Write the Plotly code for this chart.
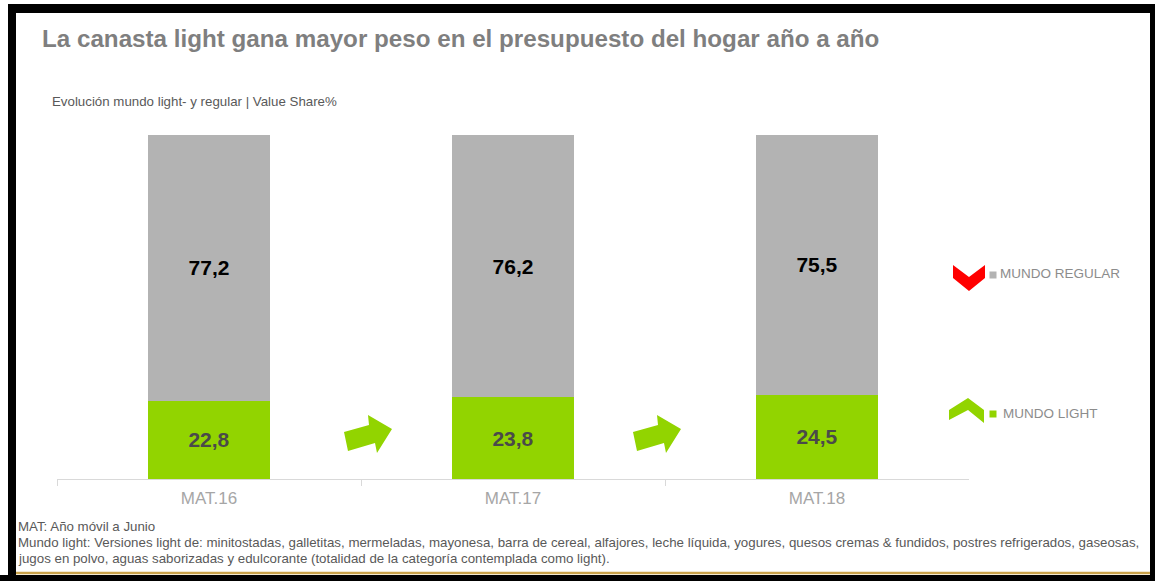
import plotly.graph_objects as go

# ---- data ----
categories = ["MAT.16", "MAT.17", "MAT.18"]
light_share = [22.8, 23.8, 24.5]
regular_share = [77.2, 76.2, 75.5]
series_names = ["MUNDO LIGHT", "MUNDO REGULAR"]

W, H = 1155, 581
FONT = "Liberation Sans, Arial, sans-serif"
GREY = "#b3b3b3"
GREEN = "#92d400"


def px(x):
    return x / W


def py(y):
    return 1 - y / H


def fmt(v):
    return f"{v:.1f}".replace(".", ",")


fig = go.Figure()
fig.add_trace(go.Bar(
    x=categories, y=light_share, name=series_names[0],
    marker=dict(color=GREEN, line=dict(width=0)), width=0.4,
    text=[fmt(v) for v in light_share], textposition="inside",
    insidetextanchor="middle", textangle=0,
    textfont=dict(family=FONT, size=21, color="#4a4a4a", weight="bold"),
    hoverinfo="skip",
))
fig.add_trace(go.Bar(
    x=categories, y=regular_share, name=series_names[1],
    marker=dict(color=GREY, line=dict(width=0)), width=0.4,
    text=[fmt(v) for v in regular_share], textposition="inside",
    insidetextanchor="middle", textangle=0,
    textfont=dict(family=FONT, size=21, color="#000000", weight="bold"),
    hoverinfo="skip",
))

# ---- decorative shapes (pixel-based, in paper coords) ----
shapes = []


def poly(points, color):
    d = "M " + " L ".join(f"{px(x):.5f},{py(y):.5f}" for x, y in points) + " Z"
    return dict(type="path", xref="paper", yref="paper", path=d,
                fillcolor=color, line=dict(width=0), layer="above")


def rect(x0, y0, x1, y1, color):
    return dict(type="rect", xref="paper", yref="paper",
                x0=px(x0), x1=px(x1), y0=py(y1), y1=py(y0),
                fillcolor=color, line=dict(width=0), layer="above")


arrow = [(344, 432), (369, 425), (368, 415), (392, 429), (377, 453), (375, 443), (348, 451)]
for dx in (0, 289):
    shapes.append(poly([(x + dx, y) for x, y in arrow], GREEN))

# legend chevrons and squares
shapes.append(poly([(953, 265), (969, 277), (985, 265), (985, 278), (969, 291), (953, 278)], "#ff0000"))
shapes.append(poly([(949, 410), (968, 398), (984, 410), (984, 423), (968, 410), (949, 420)], GREEN))
shapes.append(rect(989.5, 271.5, 996.5, 278.5, GREY))
shapes.append(rect(989.5, 410.5, 996.5, 417.5, GREEN))

# gold line near bottom
shapes.append(dict(type="line", xref="paper", yref="paper",
                   x0=px(14), x1=px(1150), y0=py(573), y1=py(573),
                   line=dict(color="#c9a24a", width=2.5), layer="above"))

# black frame
shapes.append(rect(8, 4, 1155, 13, "#000000"))
shapes.append(rect(8, 4, 16, 581, "#000000"))
shapes.append(rect(1150, 4, 1155, 581, "#000000"))
shapes.append(rect(0, 575, 1155, 581, "#000000"))

# ---- text ----
annotations = []


def txt(x, y, s, size, color, bold=False, anchor="left"):
    annotations.append(dict(
        xref="paper", yref="paper", x=px(x), y=py(y), text=s,
        showarrow=False, xanchor=anchor, yanchor="middle",
        font=dict(family=FONT, size=size, color=color,
                  weight="bold" if bold else "normal"),
    ))


txt(40, 38, "La canasta light gana mayor peso en el presupuesto del hogar año a año", 24.2, "#7f7f7f", bold=True)
txt(50, 101, "Evolución mundo light- y regular | Value Share%", 13.3, "#595959")
txt(998, 274, "MUNDO REGULAR", 13.5, "#8c8c8c")
txt(1001, 413, "MUNDO LIGHT", 13.5, "#8c8c8c")
txt(16, 526, "MAT: Año móvil a Junio", 13.3, "#595959")
txt(16, 542, "Mundo light: Versiones light de: minitostadas, galletitas, mermeladas, mayonesa, barra de cereal, alfajores, leche líquida, yogures, quesos cremas & fundidos, postres refrigerados, gaseosas,", 13.3, "#595959")
txt(16, 558, "jugos en polvo, aguas saborizadas y edulcorante (totalidad de la categoría contemplada como light).", 13.3, "#595959")

fig.update_layout(
    width=W, height=H,
    margin=dict(l=0, r=0, t=0, b=0),
    paper_bgcolor="white", plot_bgcolor="white",
    barmode="stack", showlegend=False,
    shapes=shapes, annotations=annotations,
    uniformtext=dict(mode=False),
    xaxis=dict(
        domain=[px(57), px(969)], range=[-0.5, 2.5],
        showline=True, linecolor="#d9d9d9", linewidth=1,
        ticks="outside", tickson="boundaries", ticklen=6, tickcolor="#d9d9d9",
        ticklabelstandoff=4,
        tickfont=dict(family=FONT, size=17, color="#a6a6a6"),
        showgrid=False, zeroline=False, fixedrange=True,
    ),
    yaxis=dict(
        domain=[py(479), py(135)], range=[0, 100],
        visible=False, showgrid=False, zeroline=False, fixedrange=True,
    ),
)

fig.write_html("out.html")
